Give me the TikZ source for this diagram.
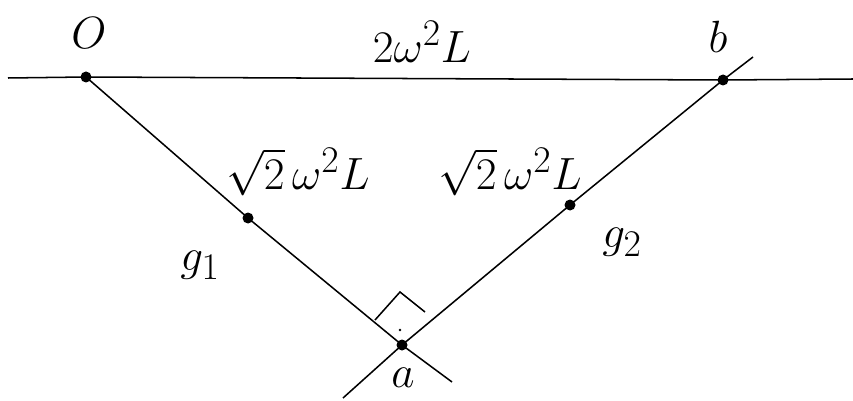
\documentclass[tikz,border=0pt]{standalone}
\usepackage{graphicx}
\newcommand{\bigtxt}[1]{\scalebox{1.55}{\Huge$#1$}}
\begin{document}
\begin{tikzpicture}[x=0.03cm,y=-0.03cm,
  ln/.style={line width=1.3pt,black},
  pt/.style={circle,fill=black,inner sep=0pt,minimum size=0.33cm},
  lbl/.style={inner sep=0pt}]
\useasboundingbox (0,0) rectangle (853,401);
% points
\node[pt] (O) at (86,77) {};
\node[pt] (b) at (723,80) {};
\node[pt] (a) at (402,345) {};
\node[pt] (p1) at (248,218) {};
\node[pt] (p2) at (570,205) {};
\coordinate (hl) at (8,78);
\coordinate (hr) at (853,79);
\coordinate (g1e) at (452,382);
\coordinate (g2s) at (753,57);
\coordinate (g2e) at (343,398);
\coordinate (r1) at (375,320);
\coordinate (r2) at (400,292);
\coordinate (r3) at (425,312);
% lines
\draw[ln] (hl) -- (O.center) -- (b.center) -- (hr);
\draw[ln] (O.center) -- (p1.center) -- (a.center) -- (g1e);
\draw[ln] (g2s) -- (b.center) -- (p2.center) -- (a.center) -- (g2e);
\draw[ln] (r1) -- (r2) -- (r3);
\fill (400,330) circle (1.2pt);
% labels
\node[lbl] (lO) at (89,33) {\bigtxt{O}};
\node[lbl] (lb) at (718,37) {\bigtxt{b}};
\node[lbl] (lt) at (422,42) {\bigtxt{2\omega^2 L}};
\node[lbl] (l1) at (298,172) {\bigtxt{\sqrt{2}\,\omega^2 L}};
\node[lbl] (l2) at (510,172) {\bigtxt{\sqrt{2}\,\omega^2 L}};
\node[lbl] (lg1) at (200,265) {\bigtxt{g_1}};
\node[lbl] (lg2) at (622,242) {\bigtxt{g_2}};
\node[lbl] (la) at (403,378) {\bigtxt{a}};
\end{tikzpicture}
\end{document}
